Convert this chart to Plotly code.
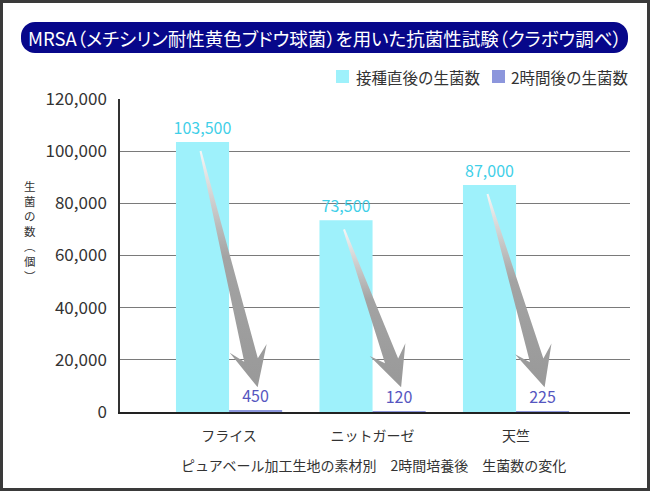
import numpy as np
import plotly.graph_objects as go

# ---------------- data ----------------
categories = ["フライス", "ニットガーゼ", "天竺"]
initial_counts = [103500, 73500, 87000]
after_2h_counts = [450, 120, 225]
series_names = ["接種直後の生菌数", "2時間後の生菌数"]
y_ticks = [0, 20000, 40000, 60000, 80000, 100000, 120000]
title_text = "MRSA（メチシリン耐性黄色ブドウ球菌）を用いた抗菌性試験（クラボウ調べ）"
subtitle_text = "ピュアベール加工生地の素材別　2時間培養後　生菌数の変化"
y_title_chars = ["生", "菌", "の", "数", "︵", "個", "︶"]
arrow_end_value = 9500

# ---------------- style / layout ----------------
W, H = 650, 491
ML, MR, MT, MB = 120, 20, 99, 79
X_RANGE = [-0.76, 2.794]
Y_RANGE = [0, 120000]
BARGAP = 0.26
CYAN = "#9ef1fb"
CYAN_TXT = "#3fcfe8"
PURPLE = "#8c96dc"
PURPLE_TXT = "#5656c0"
NAVY = "#07078a"
TXT = "#333333"
FONT = "Noto Sans CJK JP"

PW = W - ML - MR
PH = H - MT - MB


def px_x(xd):
    return ML + (xd - X_RANGE[0]) / (X_RANGE[1] - X_RANGE[0]) * PW


def px_y(yd):
    return (H - MB) - (yd - Y_RANGE[0]) / (Y_RANGE[1] - Y_RANGE[0]) * PH


def data_x(px):
    return X_RANGE[0] + (px - ML) / PW * (X_RANGE[1] - X_RANGE[0])


def data_y(py):
    return Y_RANGE[0] + ((H - MB) - py) / PH * (Y_RANGE[1] - Y_RANGE[0])


def paper_x(px):
    return (px - ML) / PW


def paper_y(py):
    return ((H - MB) - py) / PH


xs = list(range(len(categories)))
half = (1 - BARGAP) / 4.0
series_colors = [CYAN, PURPLE]

fig = go.Figure()
fig.add_trace(go.Bar(
    x=xs, y=initial_counts, name=series_names[0],
    marker=dict(color=CYAN, line=dict(width=0)),
    texttemplate="%{y:,}", textposition="outside", constraintext="none",
    textfont=dict(color=CYAN_TXT, size=16, family=FONT), cliponaxis=False,
    showlegend=False,
))
fig.add_trace(go.Bar(
    x=xs, y=after_2h_counts, name=series_names[1],
    marker=dict(color=PURPLE, line=dict(width=0)),
    texttemplate="%{y:,}", textposition="outside", constraintext="none",
    textfont=dict(color=PURPLE_TXT, size=16, family=FONT), cliponaxis=False,
    showlegend=False,
))


# ---------------- arrows (computed from bar data) ----------------
def arrow_polygon(tail, tip):
    t = np.array(tail, float)
    p = np.array(tip, float)
    d = p - t
    L = np.linalg.norm(d)
    u = d / L
    n = np.array([-u[1], u[0]])
    tail_hw, shaft_hw = 1.0, 7.0
    junction, barb_back, barb_hw = 28.0, 40.0, 19.0
    j = p - u * junction
    b = p - u * barb_back
    pts = [
        t + n * tail_hw,
        j + n * shaft_hw,
        b + n * barb_hw,
        p,
        b - n * barb_hw,
        j - n * shaft_hw,
        t - n * tail_hw,
        t + n * tail_hw,
    ]
    return pts


for i in xs:
    tail_px = (px_x(i - half) - 2, px_y(initial_counts[i]) + 9)
    tip_px = (px_x(i + half) + 2, px_y(arrow_end_value))
    pts = arrow_polygon(tail_px, tip_px)
    ax = [data_x(p[0]) for p in pts]
    ay = [data_y(p[1]) for p in pts]
    fig.add_trace(go.Scatter(
        x=ax, y=ay, mode="lines", fill="toself",
        line=dict(width=0, color="rgba(0,0,0,0)"),
        fillgradient=dict(type="vertical",
                          colorscale=[[0, "#999999"], [0.55, "#a3a3a3"], [1, "#f6f6f6"]]),
        showlegend=False, hoverinfo="skip",
    ))

# ---------------- shapes ----------------
shapes = []
# outer frame
shapes.append(dict(type="rect", xref="paper", yref="paper",
                   x0=paper_x(1.5), x1=paper_x(W - 1.5), y0=paper_y(1.5), y1=paper_y(H - 1.5),
                   line=dict(color="#3a3a3a", width=3), fillcolor="rgba(0,0,0,0)", layer="below"))

# title pill
px0, px1, py0, py1, r = 21, 628, 22, 53, 14
k = 0.5523 * r


def P(x, y):
    return f"{paper_x(x):.5f},{paper_y(y):.5f}"


path = (
    f"M{P(px0 + r, py0)} L{P(px1 - r, py0)} "
    f"C{P(px1 - r + k, py0)} {P(px1, py0 + r - k)} {P(px1, py0 + r)} "
    f"L{P(px1, py1 - r)} "
    f"C{P(px1, py1 - r + k)} {P(px1 - r + k, py1)} {P(px1 - r, py1)} "
    f"L{P(px0 + r, py1)} "
    f"C{P(px0 + r - k, py1)} {P(px0, py1 - r + k)} {P(px0, py1 - r)} "
    f"L{P(px0, py0 + r)} "
    f"C{P(px0, py0 + r - k)} {P(px0 + r - k, py0)} {P(px0 + r, py0)} Z"
)
shapes.append(dict(type="path", xref="paper", yref="paper", path=path,
                   fillcolor=NAVY, line=dict(width=0), layer="above"))

# ---------------- legend (squares + labels) ----------------
legend_sq_x = [336, 492]
legend_txt_x = [354, 509]
legend_y = 76.5
annotations = []
for name, col, sx, tx in zip(series_names, series_colors, legend_sq_x, legend_txt_x):
    shapes.append(dict(type="rect", xref="paper", yref="paper",
                       x0=paper_x(sx), x1=paper_x(sx + 13),
                       y0=paper_y(legend_y - 6.5), y1=paper_y(legend_y + 6.5),
                       fillcolor=col, line=dict(width=0), layer="above"))
    annotations.append(dict(text=name, xref="paper", yref="paper",
                            x=paper_x(tx), y=paper_y(legend_y), xanchor="left", yanchor="middle",
                            showarrow=False, font=dict(color=TXT, size=15.5, family=FONT)))

# ---------------- annotations ----------------
title_html = "<span style=\"font-feature-settings:'palt'\">" + title_text + "</span>"
annotations += [
    dict(text=title_html, xref="paper", yref="paper",
         x=paper_x((px0 + px1) / 2), y=paper_y((py0 + py1) / 2 + 0.5),
         xanchor="center", yanchor="middle", showarrow=False,
         font=dict(color="white", size=18.5, family=FONT)),
    dict(text=subtitle_text, xref="paper", yref="paper",
         x=paper_x(373), y=paper_y(465), xanchor="center", yanchor="middle",
         showarrow=False, font=dict(color=TXT, size=14, family=FONT)),
    dict(text="<br>".join(y_title_chars), xref="paper", yref="paper",
         x=paper_x(30), y=paper_y(231), xanchor="center", yanchor="middle",
         showarrow=False, font=dict(color=TXT, size=11.5, family=FONT)),
]

fig.update_layout(
    width=W, height=H,
    margin=dict(l=ML, r=MR, t=MT, b=MB, pad=0),
    paper_bgcolor="white", plot_bgcolor="white",
    barmode="group", bargap=BARGAP, bargroupgap=0,
    font=dict(family=FONT, color=TXT),
    showlegend=False,
    shapes=shapes, annotations=annotations,
    xaxis=dict(range=X_RANGE, tickvals=xs, ticktext=categories, showgrid=False,
               zeroline=False, showline=True, linecolor="#222222", linewidth=2,
               ticks="outside", ticklen=10, tickcolor="rgba(0,0,0,0)",
               tickfont=dict(size=14, color=TXT, family=FONT), fixedrange=True),
    yaxis=dict(range=Y_RANGE, tickvals=y_ticks, tickformat=",d", showgrid=True,
               gridcolor="#7a7a7a", gridwidth=1, zeroline=False,
               showline=True, linecolor="#333333", linewidth=1.5,
               ticks="outside", ticklen=8, tickcolor="rgba(0,0,0,0)",
               tickfont=dict(size=17, color=TXT, family=FONT), fixedrange=True),
)

fig.write_html(
    "out.html",
    config={"displayModeBar": False},
    post_script="document.body.style.margin='0';document.body.style.overflow='hidden';",
)
